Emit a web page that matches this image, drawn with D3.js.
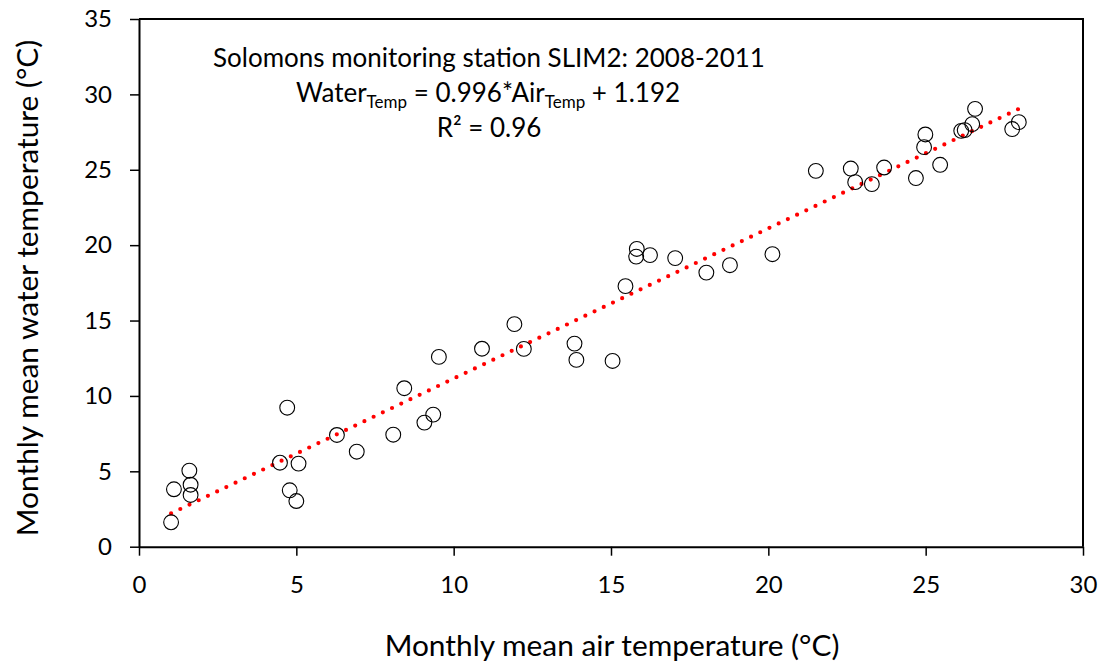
<!DOCTYPE html>
<html>
<head>
<meta charset="utf-8">
<script src="https://cdn.jsdelivr.net/npm/d3@7"></script>
<style>
  body { margin: 0; background: #fff; }
  svg { display: block; font-family: Lato, "Open Sans", sans-serif; }
</style>
</head>
<body>
<svg id="chart" width="1105" height="667"></svg>
<script>
// monthly means (air °C, water °C)
const airTemp = [
  1.02, 1.11, 1.60, 1.64, 1.64, 4.71, 4.48, 5.07, 4.79, 5.00,
  6.29, 6.92, 8.08, 8.43, 9.07, 9.35, 9.53, 10.90, 11.93, 12.23,
  13.84, 13.90, 15.05, 15.46, 15.82, 15.80, 16.24, 17.04, 18.03, 18.78,
  20.13, 21.51, 22.62, 22.76, 23.29, 23.68, 24.69, 24.99, 24.95, 25.46,
  26.13, 26.24, 26.48, 26.57, 27.75, 27.96
];
const waterTemp = [
  1.62, 3.81, 5.04, 4.11, 3.43, 9.22, 5.57, 5.51, 3.74, 3.03,
  7.41, 6.30, 7.43, 10.51, 8.23, 8.76, 12.59, 13.13, 14.76, 13.12,
  13.47, 12.39, 12.32, 17.28, 19.75, 19.24, 19.34, 19.14, 18.18, 18.67,
  19.40, 24.93, 25.08, 24.18, 24.05, 25.15, 24.45, 27.34, 26.50, 25.33,
  27.58, 27.63, 28.03, 29.04, 27.70, 28.16
];
const xTicks = [0, 5, 10, 15, 20, 25, 30];
const yTicks = [0, 5, 10, 15, 20, 25, 30, 35];
const fitSlope = 0.996;
const fitIntercept = 1.192;

const svg = d3.select("#chart");
const W = 1105, H = 667;
const margin = {left: 139, right: W - 1083, top: 19, bottom: H - 546.7};

const x = d3.scaleLinear().domain([0, 30]).range([margin.left, W - margin.right]);
const y = d3.scaleLinear().domain([0, 35]).range([H - margin.bottom, margin.top]);

// shrink or grow a text until it is as wide as the original
function fitWidth(sel, target) {
  const size = parseFloat(sel.style("font-size"));
  const len = sel.node().getComputedTextLength();
  sel.style("font-size", (size * target / len) + "px");
}

// frame (top and right)
svg.append("path")
    .attr("d", `M${x(0)},${y(35)}H${x(30)}V${y(0)}`)
    .attr("fill", "none")
    .attr("stroke", "#000")
    .attr("stroke-width", 2);

const xAxis = svg.append("g")
    .attr("transform", `translate(0,${y(0)})`)
    .call(d3.axisBottom(x).tickValues(xTicks).tickSize(9).tickSizeOuter(0).tickPadding(20));
const yAxis = svg.append("g")
    .attr("transform", `translate(${x(0)},0)`)
    .call(d3.axisLeft(y).tickValues(yTicks).tickSize(9).tickSizeOuter(0).tickPadding(18));

[xAxis, yAxis].forEach(function(g) {
  g.select(".domain").attr("stroke-width", 2);
  g.selectAll(".tick line").attr("stroke-width", 1.5);
  g.selectAll(".tick text")
      .attr("fill", "#000")
      .style("font-family", "Lato, sans-serif")
      .style("font-size", "24px");
});

// trend line
const xMin = d3.min(airTemp), xMax = d3.max(airTemp);
svg.append("line")
    .attr("x1", x(xMin)).attr("y1", y(fitSlope * xMin + fitIntercept))
    .attr("x2", x(xMax)).attr("y2", y(fitSlope * xMax + fitIntercept))
    .attr("stroke", "#ff0000")
    .attr("stroke-width", 4.2)
    .attr("stroke-linecap", "round")
    .attr("stroke-dasharray", "0 10.2");

// points
svg.append("g")
  .selectAll("circle")
  .data(airTemp.map((a, i) => [a, waterTemp[i]]))
  .join("circle")
    .attr("cx", d => x(d[0]))
    .attr("cy", d => y(d[1]))
    .attr("r", 7.4)
    .attr("fill", "none")
    .attr("stroke", "#000")
    .attr("stroke-width", 1.1);

// annotation
const note = svg.append("g")
    .attr("text-anchor", "middle")
    .style("font-size", "26px")
    .attr("fill", "#000");
const title = note.append("text")
    .attr("x", 489).attr("y", 67)
    .text("Solomons monitoring station SLIM2: 2008-2011");
fitWidth(title, 552);
const eq = note.append("text").attr("x", 488).attr("y", 102);
eq.append("tspan").text("Water");
eq.append("tspan").attr("dy", 6).style("font-size", "17px").text("Temp");
eq.append("tspan").attr("dy", -6).text(" = 0.996*Air");
eq.append("tspan").attr("dy", 6).style("font-size", "17px").text("Temp");
eq.append("tspan").attr("dy", -6).text(" + 1.192");
note.append("text")
    .attr("x", 489).attr("y", 137)
    .text("R² = 0.96");

// axis titles
const xTitle = svg.append("text")
    .attr("x", 612).attr("y", 656)
    .attr("text-anchor", "middle")
    .style("font-size", "28px")
    .text("Monthly mean air temperature (°C)");
fitWidth(xTitle, 455);
const yTitle = svg.append("text")
    .attr("transform", "translate(38,288) rotate(-90)")
    .attr("text-anchor", "middle")
    .style("font-size", xTitle.style("font-size"))
    .text("Monthly mean water temperature (°C)");
</script>
</body>
</html>
